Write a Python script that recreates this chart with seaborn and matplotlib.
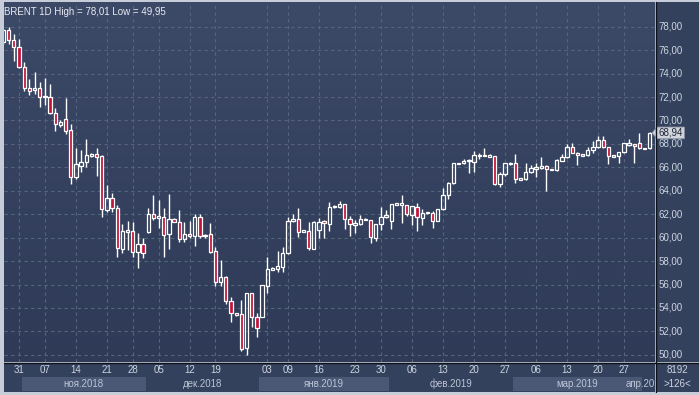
import matplotlib
matplotlib.use("Agg")
import matplotlib.pyplot as plt
import matplotlib.transforms as mtransforms
from matplotlib.patches import Polygon, Rectangle
import numpy as np
import pandas as pd
import seaborn as sns

# OHLC values (daily candles, late Oct 2018 .. 1 Apr 2019)
opens = [
    76.70, 77.70, 76.87, 76.24, 74.60, 72.74, 72.60, 72.80, 72.00, 71.97,
    70.66, 69.61, 70.12, 69.20, 65.15, 66.14, 66.48, 67.00, 67.10, 66.97,
    62.36, 63.36, 62.55, 59.01, 60.50, 60.60, 58.80, 59.46, 60.50, 62.00,
    61.75, 61.74, 60.28, 61.57, 61.36, 59.86, 60.28, 60.14, 61.74, 60.15,
    60.28, 58.85, 56.19, 56.62, 54.62, 53.50, 53.49, 50.56, 55.25, 53.20,
    53.26, 55.90, 57.30, 57.35, 57.52, 58.67, 61.42, 61.57, 60.55, 60.55,
    59.03, 60.65, 61.42, 61.17, 62.60, 62.59, 62.87, 61.57, 61.15, 61.17,
    61.55, 61.51, 59.95, 61.17, 61.74, 61.45, 62.85, 62.85, 62.79, 61.93,
    62.59, 61.65, 62.10, 62.08, 61.45, 62.42, 63.64, 64.64, 66.30, 66.34,
    66.55, 66.48, 67.00, 67.00, 66.97, 66.97, 64.58, 65.41, 66.30, 66.34,
    64.98, 64.98, 65.58, 65.92, 65.92, 66.14, 65.80, 65.77, 66.57, 66.86,
    67.71, 67.20, 67.03, 67.05, 67.48, 67.71, 68.33, 67.71, 66.97, 66.99,
    67.28, 67.91, 67.99, 68.05, 67.60, 67.62]
closes = [
    77.70, 76.87, 76.24, 74.59, 72.74, 72.55, 72.75, 72.03, 72.05, 70.66,
    69.67, 69.87, 69.13, 65.15, 66.26, 66.48, 67.05, 67.10, 66.90, 62.42,
    63.36, 62.50, 59.14, 60.60, 60.65, 58.80, 59.46, 58.67, 62.00, 61.70,
    61.80, 60.20, 61.57, 61.36, 59.86, 60.30, 60.14, 61.74, 60.14, 60.20,
    58.80, 56.19, 56.62, 54.62, 53.54, 53.45, 50.47, 55.25, 53.20, 52.26,
    55.96, 57.30, 57.38, 57.58, 58.67, 61.42, 61.57, 60.51, 60.60, 59.09,
    61.36, 61.36, 61.22, 62.59, 62.70, 62.87, 61.57, 61.17, 61.20, 61.57,
    61.60, 60.03, 61.17, 61.74, 61.93, 62.87, 62.90, 62.90, 62.02, 62.70,
    61.74, 62.13, 62.15, 61.45, 62.42, 63.64, 64.64, 66.34, 66.35, 66.57,
    66.60, 67.05, 67.05, 67.05, 67.00, 64.58, 65.41, 66.34, 66.36, 64.98,
    65.02, 65.63, 65.92, 65.95, 66.14, 65.86, 65.82, 66.63, 66.86, 67.71,
    67.20, 67.05, 67.05, 67.48, 67.71, 68.33, 67.71, 66.99, 67.00, 67.28,
    68.05, 68.05, 67.85, 67.62, 67.63, 68.94]
highs = [
    77.80, 78.01, 77.38, 76.95, 74.96, 73.51, 74.11, 73.28, 73.60, 73.08,
    71.03, 70.04, 71.94, 69.70, 67.68, 67.48, 68.42, 67.20, 67.62, 67.05,
    64.50, 63.84, 62.79, 61.17, 61.45, 61.30, 60.37, 59.95, 62.50, 63.64,
    63.20, 62.50, 63.73, 61.70, 62.36, 61.36, 61.40, 62.00, 62.00, 60.30,
    61.22, 59.23, 58.10, 56.73, 54.91, 53.60, 54.68, 55.30, 55.30, 53.54,
    56.00, 58.32, 57.50, 58.89, 59.23, 61.79, 62.00, 62.50, 60.65, 61.36,
    61.40, 61.65, 61.50, 63.07, 62.80, 63.15, 62.90, 61.85, 61.50, 61.93,
    61.65, 61.55, 61.20, 62.64, 62.36, 62.90, 63.00, 63.64, 62.80, 62.70,
    62.98, 62.42, 62.20, 62.25, 62.45, 64.21, 64.77, 66.40, 66.40, 66.69,
    66.69, 67.39, 67.25, 67.62, 67.10, 67.00, 65.63, 66.40, 66.48, 67.14,
    65.05, 66.34, 66.20, 66.34, 66.86, 66.20, 65.85, 66.70, 67.11, 67.99,
    68.05, 67.28, 67.08, 67.76, 68.25, 68.70, 68.70, 67.72, 67.02, 67.33,
    68.10, 68.42, 68.00, 68.90, 67.65, 68.99]
lows = [
    76.50, 76.52, 75.10, 74.50, 72.54, 72.17, 72.26, 71.17, 71.32, 70.55,
    69.10, 69.47, 68.84, 64.58, 64.98, 65.63, 66.05, 66.90, 65.29, 61.74,
    62.22, 62.22, 58.38, 58.67, 58.95, 58.38, 57.44, 58.24, 60.40, 61.55,
    60.80, 58.38, 59.03, 61.30, 59.66, 59.66, 60.00, 59.29, 60.00, 60.00,
    58.67, 55.90, 55.90, 54.31, 52.78, 53.35, 50.35, 49.95, 52.40, 51.55,
    53.20, 55.30, 57.20, 57.10, 57.10, 58.60, 61.30, 60.08, 60.45, 58.95,
    59.00, 60.00, 60.00, 60.60, 62.50, 62.50, 60.71, 60.17, 60.37, 61.10,
    61.50, 59.52, 59.74, 60.65, 61.70, 60.71, 62.80, 61.28, 61.85, 61.08,
    60.59, 61.08, 62.05, 60.85, 61.40, 62.40, 63.27, 64.60, 66.25, 66.30,
    65.54, 65.63, 66.69, 66.95, 66.90, 64.49, 64.30, 65.30, 66.20, 64.64,
    64.92, 64.90, 65.50, 65.20, 65.85, 64.01, 65.75, 65.70, 66.50, 66.80,
    67.20, 66.20, 66.98, 66.95, 67.20, 67.65, 67.65, 66.26, 66.93, 66.40,
    67.20, 67.80, 66.40, 67.55, 67.55, 67.60]

# x-axis labels (candle index of each labelled day)
day_ticks = [3, 8, 14, 20, 25, 30, 36, 41, 51, 55, 61, 68, 73, 79, 85, 91, 97, 103, 109, 115, 120]
day_labels = ["31", "07", "14", "21", "28", "05", "12", "19", "03", "09", "16",
              "23", "30", "06", "13", "20", "27", "06", "13", "20", "27"]
month_starts = [4, 28, 50, 75, 99, 124]
month_labels = ["ноя.2018", "дек.2018", "янв.2019", "фев.2019", "мар.2019", "апр.2019"]
price_ticks = list(range(50, 80, 2))
last_price = 68.94

df = pd.DataFrame({"open": opens, "high": highs, "low": lows, "close": closes})
df["x"] = np.arange(len(df))
df["up"] = df["close"] >= df["open"]

sns.set_theme(style="dark")
plt.rcParams["font.family"] = ["Liberation Sans", "DejaVu Sans"]

W, H = 699, 395
BG_TOP, BG_BOT = "#2e3a56", "#3c4967"
PANEL = "#34415d"
TXT = "#cdd4e0"
RED = "#c2133a"
FS = 7.0


def px_rect(x0, y0, x1, y1):
    return [x0 / W, 1 - y1 / H, (x1 - x0) / W, (y1 - y0) / H]


fig = plt.figure(figsize=(W / 100, H / 100), dpi=100, facecolor="#c6cdd9")

ax = fig.add_axes(px_rect(4, 2, 655, 362))
ax_r = fig.add_axes(px_rect(656, 2, 699, 362))
ax_b = fig.add_axes(px_rect(4, 363, 655, 392))
ax_c = fig.add_axes(px_rect(656, 363, 699, 392))

xlim = (0.1, 126.0)
ylim = (49.39, 80.11)

# main panel background gradient
grad = np.linspace(0, 1, 256).reshape(-1, 1)
cmap = matplotlib.colors.LinearSegmentedColormap.from_list("bg", [BG_TOP, BG_BOT])
ax.imshow(grad, aspect="auto", cmap=cmap, extent=[xlim[0], xlim[1], ylim[1], ylim[0]], zorder=0)
ax.set_xlim(*xlim)
ax.set_ylim(*ylim)

# grid
for p in price_ticks:
    ax.axhline(p, color="#56647e", lw=0.8, ls=(0, (3, 3)), zorder=1)
for t in day_ticks:
    ax.axvline(t, color="#56647e", lw=0.8, ls=(0, (3, 3)), zorder=1)

# candles
bw = 0.64
min_h = 0.12
for _, r in df.iterrows():
    lo_b = min(r["open"], r["close"])
    hi_b = max(r["open"], r["close"])
    if hi_b - lo_b < min_h:
        mid = (hi_b + lo_b) / 2
        lo_b, hi_b = mid - min_h / 2, mid + min_h / 2
    ax.vlines(r["x"], r["low"], lo_b, color="white", lw=1.0, zorder=2)
    ax.vlines(r["x"], hi_b, r["high"], color="white", lw=1.0, zorder=2)
    ax.bar(r["x"], hi_b - lo_b, bottom=lo_b, width=bw,
           color=RED if not r["up"] else "none", edgecolor="white", linewidth=0.9, zorder=3)

ax.set_xticks([])
ax.set_yticks([])
for s in ax.spines.values():
    s.set_visible(False)

ax.text(0.0, 0.985, "BRENT 1D High = 78,01 Low = 49,95", transform=ax.transAxes,
        ha="left", va="top", color="#e8ebf1", fontsize=7.0)

# right price axis
ax_r.set_facecolor(PANEL)
ax_r.set_xlim(0, 1)
ax_r.set_ylim(*ylim)
ax_r.set_xticks([])
ax_r.set_yticks([])
for s in ax_r.spines.values():
    s.set_visible(False)
for p in price_ticks:
    ax_r.text(0.06, p, f"{p:.2f}".replace(".", ","), ha="left", va="center",
              color=TXT, fontsize=FS)

# last price tag
tr = mtransforms.blended_transform_factory(ax_r.transAxes, ax_r.transData)
tag = Polygon([[-0.09, last_price], [0.02, last_price + 0.5], [0.66, last_price + 0.5],
               [0.66, last_price - 0.5], [0.02, last_price - 0.5]],
              closed=True, transform=tr, facecolor="#cfd3db", edgecolor="#8b94a6",
              lw=0.6, clip_on=False, zorder=5)
ax_r.add_patch(tag)
ax_r.text(0.34, last_price, f"{last_price:.2f}".replace(".", ","), transform=tr,
          ha="center", va="center", color="#1d2433", fontsize=FS, zorder=6)

# bottom date axis
ax_b.set_facecolor(PANEL)
ax_b.set_xlim(*xlim)
ax_b.set_ylim(0, 1)
ax_b.set_xticks([])
ax_b.set_yticks([])
for s in ax_b.spines.values():
    s.set_visible(False)
bounds = [xlim[0] - 1] + [m - 0.5 for m in month_starts] + [xlim[1] + 1]
for i in range(len(bounds) - 1):
    shade = "#4a5876" if i % 2 == 1 else PANEL
    ax_b.add_patch(Rectangle((bounds[i], 0.03), bounds[i + 1] - bounds[i], 0.49,
                             facecolor=shade, edgecolor="none", zorder=1))
for t, lab in zip(day_ticks, day_labels):
    ax_b.text(t, 0.76, lab, ha="center", va="center", color=TXT, fontsize=FS)
clip = Rectangle((xlim[0], 0), month_starts[-1] - 0.6 - xlim[0], 1, transform=ax_b.transData)
for i, lab in enumerate(month_labels):
    if i < len(month_labels) - 1:
        cx = (month_starts[i] + month_starts[i + 1]) / 2 - 0.5
        ax_b.text(cx, 0.27, lab, ha="center", va="center", color="#bcc5d4", fontsize=FS)
    else:
        t_last = ax_b.text(month_starts[i] - 3.6, 0.27, lab, ha="left", va="center",
                           color="#bcc5d4", fontsize=FS)
        t_last.set_clip_path(clip)

# corner box
ax_c.set_facecolor(PANEL)
ax_c.set_xticks([])
ax_c.set_yticks([])
for s in ax_c.spines.values():
    s.set_visible(False)
ax_c.text(0.5, 0.76, "8192", transform=ax_c.transAxes, ha="center", va="center",
          color=TXT, fontsize=FS)
ax_c.text(0.5, 0.27, ">126<", transform=ax_c.transAxes, ha="center", va="center",
          color=TXT, fontsize=FS)

# separator lines
fig.add_artist(plt.Line2D([655.5 / W, 655.5 / W], [1 - 392 / H, 1 - 2 / H],
                          color="#0d111a", lw=1.0, transform=fig.transFigure))
fig.add_artist(plt.Line2D([4 / W, 1.0], [1 - 362.5 / H, 1 - 362.5 / H],
                          color="#0d111a", lw=1.0, transform=fig.transFigure))

fig.savefig("out.png", dpi=100, facecolor=fig.get_facecolor())
